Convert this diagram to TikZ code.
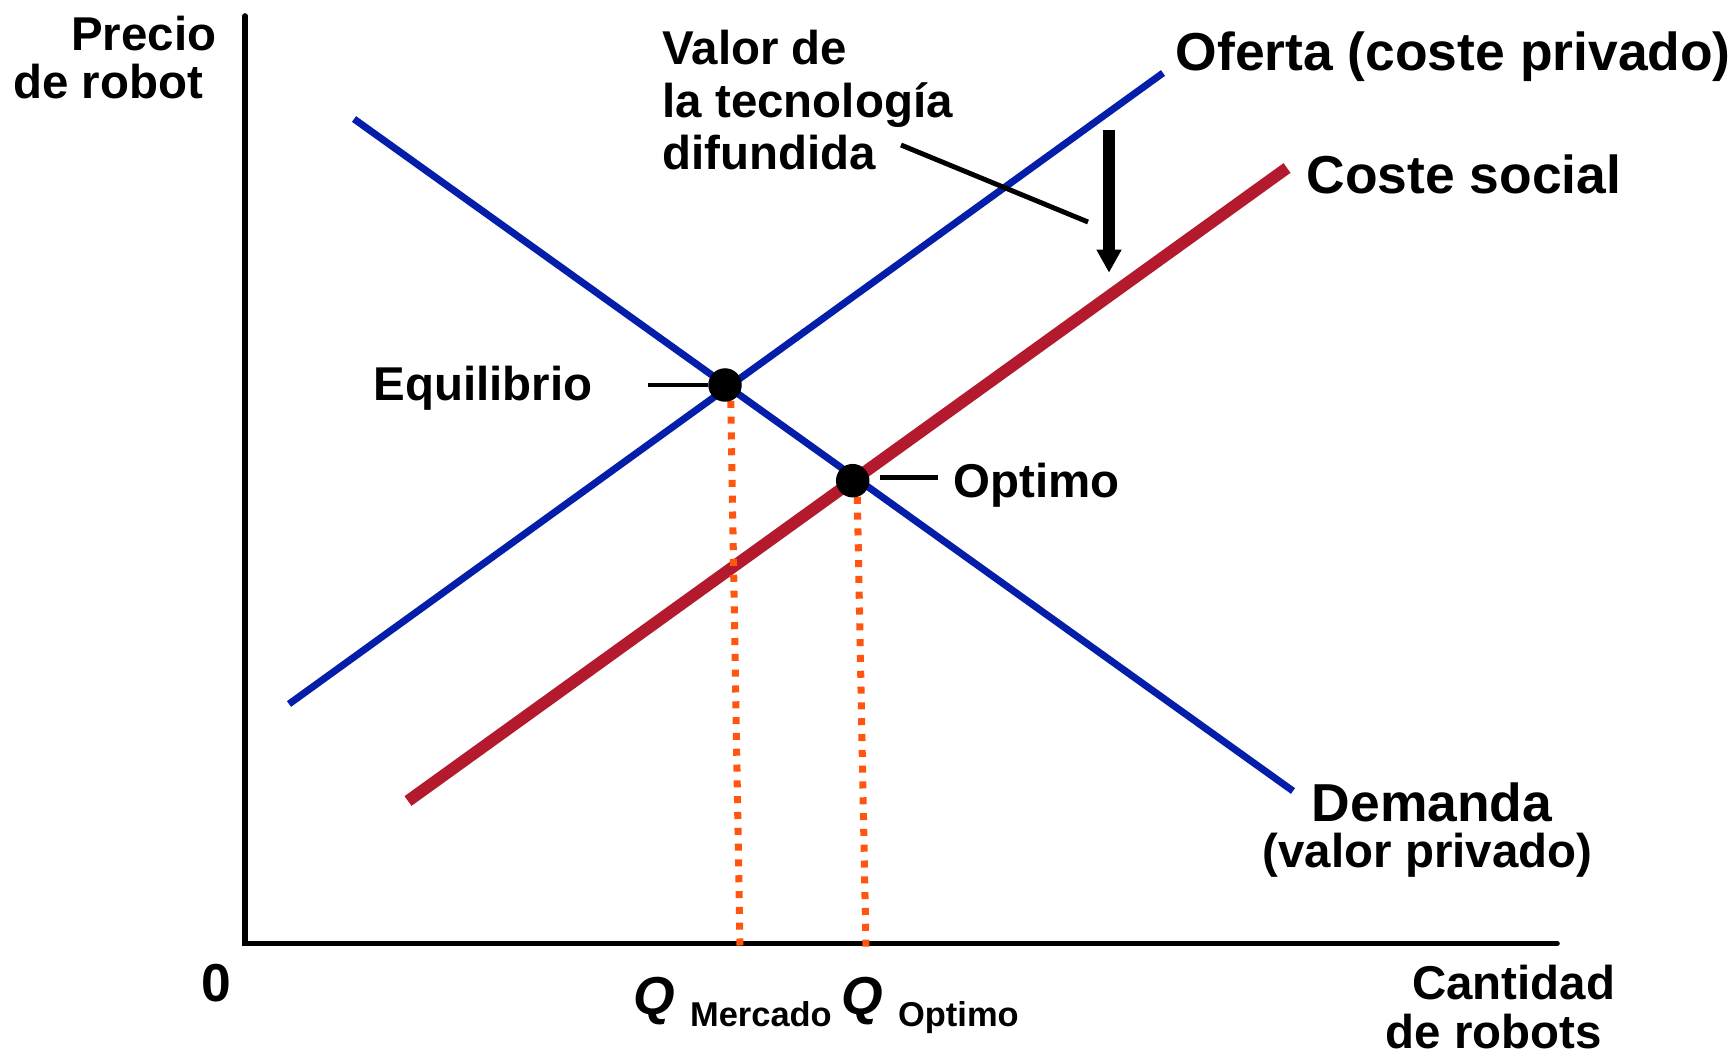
\documentclass[tikz,border=0pt]{standalone}
\usepackage{fontspec}
\setmainfont{Liberation Sans}
\usepackage{xcolor}
\usetikzlibrary{arrows.meta, positioning}
\definecolor{curvablue}{RGB}{5,30,170}
\definecolor{socialred}{RGB}{180,26,45}
\definecolor{guiaorange}{RGB}{255,85,15}

\begin{document}
\begin{tikzpicture}[
  font=\fontsize{13.5}{15}\selectfont\bfseries,
  txt/.style={inner sep=0pt},
  grande/.style={font=\fontsize{15.2}{16}\selectfont\bfseries},
  eje/.style={align=right, font=\fontsize{13.5}{13.9}\selectfont\bfseries},
  curva/.style={curvablue, line width=2pt},
  social/.style={socialred, line width=3.4pt},
  guia/.style={guiaorange, line width=2pt, dash pattern=on 2pt off 2.5pt},
  punto/.style={circle, fill=black, minimum size=0.335cm, inner sep=0pt},
  leader/.style={line width=1.4pt}
]
\useasboundingbox (0,0) rectangle (17.30,10.56);

% ejes
\coordinate (ytop) at (2.45,10.40);
\coordinate (O) at (2.45,1.125);
\coordinate (xend) at (15.57,1.125);
\draw[line width=1.6pt, line cap=round] (ytop) -- (O) -- (xend);

% curvas
\coordinate (d1) at (3.54,9.37);
\coordinate (d2) at (12.93,2.65);
\coordinate (s1) at (2.89,3.52);
\coordinate (s2) at (11.63,9.83);
\coordinate (c1) at (4.08,2.55);
\coordinate (c2) at (12.87,8.88);
\draw[curva] (d1) -- (d2);
\draw[curva] (s1) -- (s2);
\draw[social] (c1) -- (c2);

% cantidades
\coordinate (eqtop) at (7.305,6.71);
\coordinate (qm) at (7.40,1.07);
\coordinate (opttop) at (8.57,5.75);
\coordinate (qo) at (8.66,1.07);
\draw[guia] (eqtop) -- (qm);
\draw[guia] (opttop) -- (qo);

\node[punto] (eq) at (7.25,6.71) {};
\node[punto] (opt) at (8.527,5.753) {};

\node[txt, anchor=base east] (eqlbl) at (5.93,6.553) {Equilibrio};
\node[txt, anchor=base west] (optlbl) at (9.53,5.584) {Optimo};
\draw[leader] (eq.west) -- ++(-0.6,0);
\draw[leader] ([xshift=0.1cm,yshift=0.035cm]opt.east) -- ++(0.58,0);

\node[txt, grande, anchor=base west] (oferta) at (11.75,9.853) {Oferta (coste privado)};
\node[txt, grande, anchor=base west] (social) at (13.06,8.624) {Coste social};
\node[txt, grande, anchor=base] (dem) at (14.32,2.35) {Demanda};
\node[txt, anchor=base] (demvp) at ([xshift=-0.045cm, yshift=-0.46cm]dem.base) {(valor privado)};

% tecnologia difundida
\node[txt, anchor=base west, align=left] (valor) at (6.62,8.86) {Valor de\\la tecnología\\difundida};
\coordinate (v1) at (9.01,9.11);
\coordinate (v2) at (10.88,8.34);
\draw[leader] (v1) -- (v2);
\coordinate (f1) at (11.09,9.264);
\coordinate (f2) at (11.09,7.833);
\draw[line width=3.4pt, -{Triangle[length=0.23cm, width=0.235cm]}] (f1) -- (f2);

% rotulos de ejes
\node[txt, eje, anchor=base east] (precio) at (2.17,9.57) {Precio\\de robot\hspace*{0.28em}};
\node[txt, eje, anchor=base east] (cantidad) at (16.16,0.08) {Cantidad\\de robots\hspace*{0.28em}};
\node[txt, grande, anchor=base] (cero) at (2.16,0.55) {0};
\node[txt, grande, anchor=base west] (qmer) at (6.33,0.415) {\textit{Q} \raisebox{-0.115cm}{\fontsize{9.8}{10}\selectfont Mercado}};
\node[txt, grande, anchor=base west] (qopt) at (8.41,0.415) {\textit{Q} \raisebox{-0.115cm}{\fontsize{9.8}{10}\selectfont Optimo}};
\end{tikzpicture}
\end{document}
